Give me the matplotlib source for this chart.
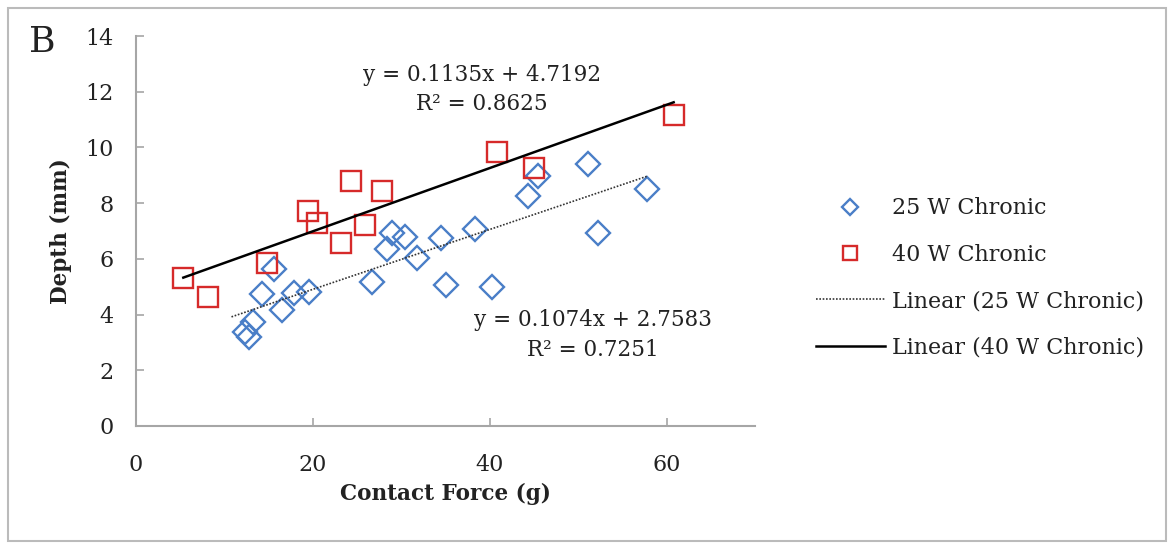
import matplotlib
matplotlib.use("Agg")
import matplotlib.pyplot as plt
from matplotlib.patches import Rectangle
import numpy as np

# ---- data ----
force_25 = [15.6, 14.3, 16.5, 17.85, 19.6, 13.25, 12.3, 12.8, 26.7, 28.4, 28.9,
            30.4, 31.8, 34.5, 35.1, 38.3, 40.3, 44.3, 45.5, 51.1, 52.2, 57.8]
depth_25 = [5.62, 4.73, 4.16, 4.76, 4.81, 3.74, 3.39, 3.18, 5.16, 6.34, 6.92,
            6.80, 6.02, 6.76, 5.06, 7.07, 4.98, 8.27, 8.98, 9.40, 6.92, 8.51]
force_40 = [5.35, 8.1, 14.77, 19.4, 20.5, 23.2, 24.3, 25.9, 27.8, 40.8, 45.0, 60.8]
depth_40 = [5.32, 4.64, 5.84, 7.72, 7.27, 6.58, 8.79, 7.21, 8.43, 9.85, 9.27, 11.16]

fit_25 = (0.1074, 2.7583)   # slope, intercept
fit_40 = (0.1135, 4.7192)
range_25 = (10.8, 57.8)
range_40 = (5.35, 60.8)

series_labels = ["25 W Chronic", "40 W Chronic",
                 "Linear (25 W Chronic)", "Linear (40 W Chronic)"]
eq_25 = ["y = 0.1074x + 2.7583", "R² = 0.7251"]
eq_40 = ["y = 0.1135x + 4.7192", "R² = 0.8625"]
x_ticks = [0, 20, 40, 60]
y_ticks = [0, 2, 4, 6, 8, 10, 12, 14]

blue = "#4A7EC7"
red = "#D62A2A"
axis_gray = "#A6A6A6"
text_col = "#222222"

plt.rcParams["font.family"] = ["DejaVu Serif"]

W, H = 1173, 546
fig = plt.figure(figsize=(W / 100, H / 100), dpi=100)
ax = fig.add_axes([136 / W, 1 - 426 / H, (755 - 136) / W, (426 - 36) / H])

# frame around the whole figure
fig.patches.append(Rectangle((8 / W, 5 / H), (1166 - 8) / W, (538 - 5) / H,
                             transform=fig.transFigure, fill=False,
                             edgecolor="#BBBBBB", linewidth=1.5))

h25, = ax.plot(force_25, depth_25, linestyle="none", marker="D", markersize=12,
               markerfacecolor="none", markeredgecolor=blue, markeredgewidth=1.7)
h40, = ax.plot(force_40, depth_40, linestyle="none", marker="s", markersize=14.5,
               markerfacecolor="none", markeredgecolor=red, markeredgewidth=1.7)

xs25 = np.array(range_25)
xs40 = np.array(range_40)
l25, = ax.plot(xs25, fit_25[0] * xs25 + fit_25[1], color="#333333",
               linestyle=(0, (1, 1)), linewidth=1.2)
l40, = ax.plot(xs40, fit_40[0] * xs40 + fit_40[1], color="black", linewidth=1.8)

ax.set_xlim(0, 70)
ax.set_ylim(0, 14)
ax.set_xticks(x_ticks)
ax.set_yticks(y_ticks)
for s in ["top", "right"]:
    ax.spines[s].set_visible(False)
for s in ["left", "bottom"]:
    ax.spines[s].set_color(axis_gray)
    ax.spines[s].set_linewidth(1.5)
ax.tick_params(direction="in", length=6, width=1.2, color=axis_gray,
               labelsize=16, labelcolor=text_col)
ax.tick_params(axis="y", pad=16)
ax.tick_params(axis="x", pad=20)

ax.set_xlabel("Contact Force (g)", fontsize=15.5, fontweight="bold", labelpad=5,
              color=text_col)
ax.set_ylabel("Depth (mm)", fontsize=15.5, fontweight="bold", labelpad=10,
              color=text_col)

# equations
ax.text(482 / W, 1 - 75 / H, eq_40[0], transform=fig.transFigure,
        ha="center", va="center", fontsize=15.5, color=text_col)
ax.text(482 / W, 1 - 104 / H, eq_40[1], transform=fig.transFigure,
        ha="center", va="center", fontsize=15.5, color=text_col)
ax.text(593 / W, 1 - 320 / H, eq_25[0], transform=fig.transFigure,
        ha="center", va="center", fontsize=15.5, color=text_col)
ax.text(593 / W, 1 - 350 / H, eq_25[1], transform=fig.transFigure,
        ha="center", va="center", fontsize=15.5, color=text_col)

fig.text(42 / W, 1 - 42 / H, "B", ha="center", va="center", fontsize=26,
         color=text_col)

leg = fig.legend([h25, h40, l25, l40], series_labels,
                 loc="center left", bbox_to_anchor=(796 / W, 1 - 278 / H),
                 frameon=False, fontsize=16, handlelength=3.1,
                 labelspacing=1.1, markerscale=0.65, handletextpad=0.3)
for t in leg.get_texts():
    t.set_color(text_col)

fig.savefig("out.png", dpi=100)
